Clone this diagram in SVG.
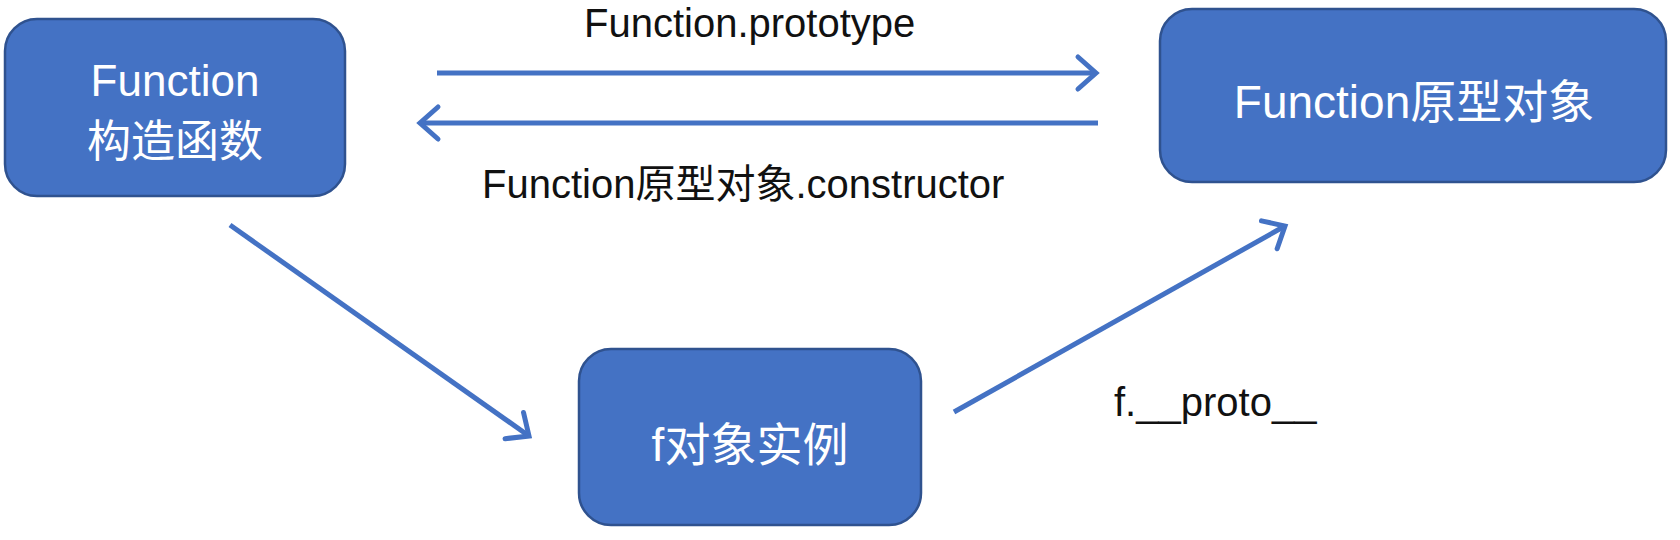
<svg xmlns="http://www.w3.org/2000/svg" width="1680" height="540" viewBox="0 0 1680 540">
  <style>
    .box { fill: #4472C4; stroke: #2F528F; stroke-width: 2.5; }
    .ntext { fill: #ffffff; font-family: "Liberation Sans", "Noto Sans CJK SC", sans-serif; text-anchor: middle; }
    .label { fill: #111111; font-family: "Liberation Sans", "Noto Sans CJK SC", sans-serif; font-size: 40px; }
    .conn { stroke: #4472C4; stroke-width: 5; fill: none; }
  </style>
  <defs>
    <marker id="arr" markerUnits="userSpaceOnUse" viewBox="0 0 30 40" refX="26" refY="20" markerWidth="30" markerHeight="40" orient="auto">
      <path d="M8,4 L26,20 L8,36" fill="none" stroke="#4472C4" stroke-width="5" stroke-linecap="round" stroke-linejoin="miter"/>
    </marker>
  </defs>
  <rect width="1680" height="540" fill="#ffffff"/>

  <g id="node-function-ctor">
    <rect class="box" x="5" y="19" width="340" height="177" rx="32" ry="32"/>
    <text class="ntext" x="175" y="96" font-size="44">Function</text>
    <text class="ntext" x="175" y="157" font-size="44">构造函数</text>
  </g>

  <g id="node-function-proto">
    <rect class="box" x="1160" y="9" width="506" height="173" rx="32" ry="32"/>
    <text class="ntext" x="1414" y="118" font-size="46">Function原型对象</text>
  </g>

  <g id="node-f-instance">
    <rect class="box" x="579" y="349" width="342" height="176" rx="32" ry="32"/>
    <text class="ntext" x="750" y="461" font-size="46">f对象实例</text>
  </g>

  <g id="connectors">
    <line class="conn" x1="437" y1="73" x2="1096" y2="73" marker-end="url(#arr)"/>
    <line class="conn" x1="1098" y1="123" x2="420" y2="123" marker-end="url(#arr)"/>
    <line class="conn" x1="230" y1="225" x2="529" y2="436" marker-end="url(#arr)"/>
    <line class="conn" x1="954" y1="412" x2="1285" y2="226" marker-end="url(#arr)"/>
  </g>

  <g id="labels">
    <text class="label" x="584" y="37">Function.prototype</text>
    <text class="label" x="482" y="198">Function原型对象.constructor</text>
    <text class="label" x="1114" y="416">f.__proto__</text>
  </g>
</svg>
